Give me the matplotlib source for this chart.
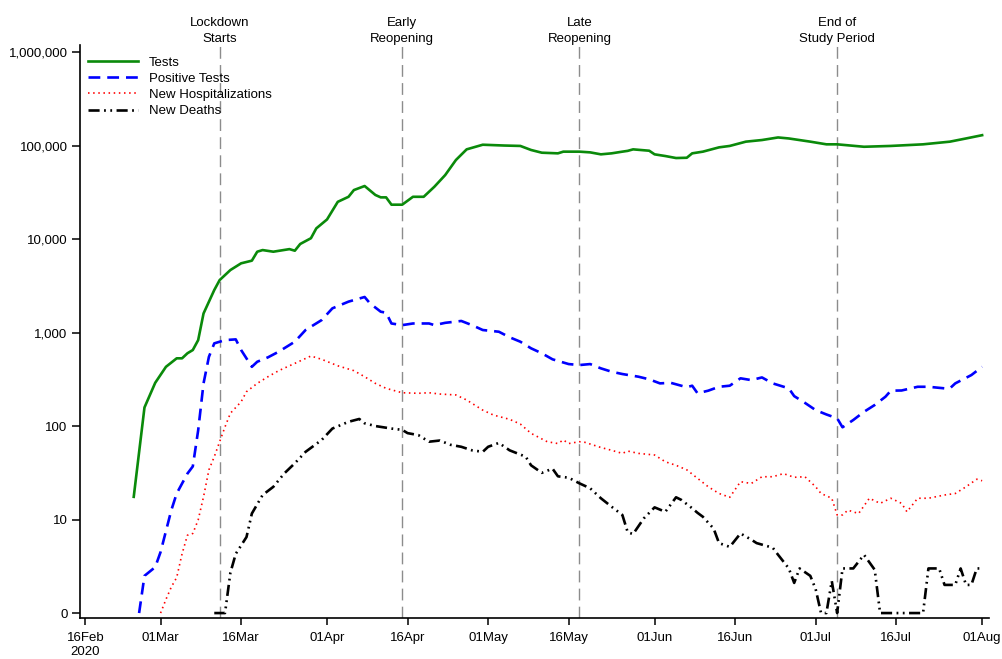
import numpy as np
import pandas as pd
import matplotlib
matplotlib.use("Agg")
import matplotlib.pyplot as plt
import matplotlib.dates as mdates
from matplotlib.ticker import FixedLocator, FixedFormatter, NullLocator

plt.rcParams['font.family'] = ['Liberation Sans', 'DejaVu Sans']
plt.rcParams['lines.scale_dashes'] = False

# ---- data ----
tests_dates = ["02-25", "02-27", "02-29", "03-02", "03-04", "03-05", "03-06", "03-07",
               "03-08", "03-09", "03-11", "03-12", "03-14", "03-16", "03-18", "03-19",
               "03-20", "03-22", "03-25", "03-26", "03-27", "03-29", "03-30", "04-01",
               "04-03", "04-05", "04-06", "04-08", "04-10", "04-11", "04-12", "04-13",
               "04-15", "04-17", "04-19", "04-21", "04-23", "04-25", "04-27", "04-30",
               "05-04", "05-07", "05-09", "05-11", "05-14", "05-15", "05-18", "05-20",
               "05-22", "05-24", "05-26", "05-27", "05-28", "05-31", "06-01", "06-03",
               "06-05", "06-07", "06-08", "06-10", "06-13", "06-15", "06-18", "06-21",
               "06-24", "06-26", "06-30", "07-03", "07-05", "07-10", "07-15", "07-21",
               "07-26", "07-29", "08-01"]
tests = [17.5, 158, 290, 430, 530, 530, 600, 650,
         830, 1600, 2850, 3640, 4660, 5500, 5870, 7320,
         7620, 7320, 7800, 7500, 8850, 10200, 13000, 16200,
         25000, 28300, 33400, 36900, 29600, 27900, 27900, 23300,
         23300, 28300, 28300, 36300, 48300, 70000, 91000, 102000,
         100000, 99000, 89600, 83800, 82500, 86000, 86000, 84500,
         80500, 82500, 86000, 87700, 91000, 88000, 80500, 77200,
         73500, 74000, 82500, 86000, 95600, 99000, 110000, 114500,
         122000, 119000, 110000, 103000, 103000, 97000, 99000, 103000,
         110000, 119000, 129000]

pos_dates = ["02-26", "02-27", "02-29", "03-01", "03-03", "03-04", "03-06", "03-07",
             "03-08", "03-09", "03-10", "03-11", "03-13", "03-15", "03-16", "03-18",
             "03-19", "03-21", "03-23", "03-26", "03-28", "03-31", "04-02", "04-05",
             "04-08", "04-09", "04-11", "04-12", "04-13", "04-15", "04-17", "04-20",
             "04-21", "04-23", "04-26", "04-28", "04-30", "05-03", "05-05", "05-07",
             "05-09", "05-11", "05-13", "05-16", "05-18", "05-20", "05-22", "05-24",
             "05-26", "05-29", "05-31", "06-02", "06-04", "06-07", "06-08", "06-09",
             "06-11", "06-13", "06-15", "06-17", "06-19", "06-21", "06-23", "06-26",
             "06-27", "06-29", "07-01", "07-03", "07-05", "07-06", "07-08", "07-10",
             "07-12", "07-14", "07-15", "07-17", "07-20", "07-22", "07-25", "07-26",
             "07-27", "07-30", "08-01"]
positive = [0, 2.5, 3.1, 4.5, 12.6, 19, 31, 37,
            90, 286, 550, 766, 830, 845, 650, 430,
            487, 543, 624, 798, 1064, 1360, 1815, 2140,
            2400, 2050, 1670, 1630, 1250, 1200, 1250, 1250,
            1200, 1270, 1330, 1200, 1064, 1020, 890, 798,
            678, 600, 517, 460, 449, 460, 414, 381,
            360, 337, 316, 286, 290, 260, 270, 224,
            239, 263, 270, 324, 310, 331, 286, 253,
            209, 177, 148, 133, 121, 97, 116, 142,
            168, 206, 239, 240, 263, 263, 253, 253,
            286, 351, 430]

hosp_dates = ["03-01", "03-02", "03-03", "03-04", "03-05", "03-06", "03-07", "03-08",
              "03-09", "03-10", "03-11", "03-12", "03-13", "03-14", "03-16", "03-17",
              "03-19", "03-21", "03-23", "03-26", "03-29", "03-31", "04-03", "04-06",
              "04-08", "04-10", "04-12", "04-15", "04-18", "04-20", "04-22", "04-25",
              "04-27", "04-30", "05-02", "05-05", "05-07", "05-09", "05-12", "05-14",
              "05-15", "05-16", "05-18", "05-19", "05-22", "05-24", "05-26", "05-27",
              "05-29", "06-01", "06-03", "06-05", "06-07", "06-09", "06-11", "06-13",
              "06-15", "06-17", "06-19", "06-21", "06-23", "06-25", "06-27", "06-29",
              "07-01", "07-02", "07-04", "07-05", "07-06", "07-07", "07-09", "07-11",
              "07-13", "07-15", "07-17", "07-18", "07-20", "07-22", "07-25", "07-27",
              "07-29", "07-31", "08-01"]
hospitalizations = [0, 1.4, 1.9, 2.4, 4.3, 6.8, 7.1, 9.9,
                    17.5, 34, 47, 68, 98, 137, 182, 233,
                    286, 337, 391, 468, 561, 517, 441, 391,
                    337, 286, 253, 227, 224, 227, 220, 215,
                    190, 148, 131, 118, 105, 83.5, 68, 65,
                    71, 65, 68, 67, 59, 55, 51, 54,
                    51, 49, 41.5, 38, 34, 27.6, 22.4, 19,
                    17.3, 25.4, 24.3, 28.7, 28.7, 31, 28.3, 28.7,
                    22.4, 19, 16.9, 11.2, 11.2, 12.6, 11.6, 16.9,
                    14.9, 16.9, 14.9, 12.1, 16.9, 16.9, 18.3, 19,
                    22.4, 27, 26]

death_dates = ["03-11", "03-13", "03-14", "03-15", "03-17", "03-18", "03-20", "03-22",
               "03-24", "03-26", "03-28", "03-31", "04-02", "04-05", "04-07", "04-08",
               "04-10", "04-13", "04-15", "04-16", "04-18", "04-20", "04-22", "04-24",
               "04-26", "04-28", "04-30", "05-01", "05-03", "05-05", "05-08", "05-09",
               "05-11", "05-13", "05-14", "05-16", "05-18", "05-20", "05-22", "05-24",
               "05-26", "05-27", "05-28", "05-30", "06-01", "06-03", "06-05", "06-06",
               "06-08", "06-09", "06-10", "06-12", "06-13", "06-15", "06-17", "06-19",
               "06-20", "06-23", "06-24", "06-26", "06-27", "06-28", "06-30", "07-01",
               "07-02", "07-03", "07-04", "07-05", "07-06", "07-08", "07-10", "07-12",
               "07-13", "07-16", "07-20", "07-21", "07-22", "07-24", "07-25", "07-27",
               "07-28", "07-29", "07-30", "07-31", "08-01"]
deaths = [0, 0, 2.7, 4.3, 6.5, 11.6, 18.3, 22.4,
          31, 40, 53, 71, 94, 111, 119, 107,
          100, 94, 91, 84, 80, 68, 70, 63,
          60, 55, 53, 60, 66, 55, 47, 38,
          31.6, 35, 29, 28, 24.4, 21.6, 16.9, 13.7,
          11.2, 7.3, 7.0, 10.3, 13.5, 12.1, 17.3, 16.2,
          13.2, 11.8, 10.7, 8.0, 5.6, 5.1, 7.1, 6.1,
          5.6, 5.0, 4.2, 3.0, 2.1, 3.0, 2.5, 1.8,
          0, 0, 2.2, 0, 3, 3, 4.2, 2.9,
          0, 0, 0, 0, 3, 3, 2, 2,
          3, 2, 2, 3, 3]

event_dates = ["03-12", "04-15", "05-18", "07-05"]
event_labels = ["Lockdown\nStarts", "Early\nReopening", "Late\nReopening", "End of\nStudy Period"]

tick_dates = ["02-16", "03-01", "03-16", "04-01", "04-16", "05-01", "05-16",
              "06-01", "06-16", "07-01", "07-16", "08-01"]
tick_labels = ["16Feb\n2020", "01Mar", "16Mar", "01Apr", "16Apr", "01May", "16May",
               "01Jun", "16Jun", "01Jul", "16Jul", "01Aug"]

ytick_values = [1, 10, 100, 1000, 10000, 100000, 1000000]
ytick_labels = ["0", "10", "100", "1,000", "10,000", "100,000", "1,000,000"]


def to_dates(md):
    return pd.to_datetime(["2020-" + d for d in md])


def floor1(v):
    # zero is drawn on the bottom ("0") line of the log axis
    return np.maximum(np.asarray(v, dtype=float), 1.0)


fig = plt.figure(figsize=(10.03, 6.59), dpi=100)
ax = fig.add_axes([0.0798, 0.0622, 0.9063, 0.8695])

ax.set_yscale('log')
ax.set_ylim(10 ** -0.053, 10 ** 6.075)
ax.set_xlim(pd.Timestamp("2020-02-15"), pd.Timestamp("2020-08-02 07:00"))

for d in to_dates(event_dates):
    ax.axvline(d, color='#8c8c8c', lw=1.0, dashes=(8.5, 4.5), zorder=1)

ax.plot(to_dates(tests_dates), floor1(tests), color='#0a8a0a', lw=1.9,
        solid_joinstyle='round', label='Tests', zorder=3)
ax.plot(to_dates(pos_dates), floor1(positive), color='#0000ff', lw=1.9,
        dashes=(8.5, 5.0), label='Positive Tests', zorder=3)
ax.plot(to_dates(hosp_dates), floor1(hospitalizations), color='#ff0000', lw=1.2,
        dashes=(1.1, 2.6), label='New Hospitalizations', zorder=3)
ax.plot(to_dates(death_dates), floor1(deaths), color='black', lw=1.9,
        dashes=(8.0, 3.2, 1.3, 3.2, 1.3, 3.2), label='New Deaths', zorder=3)

trans = ax.get_xaxis_transform()
for d, lab in zip(to_dates(event_dates), event_labels):
    ax.text(d, 1.0, lab, transform=trans, ha='center', va='bottom',
            fontsize=9.5, linespacing=1.5)

ax.yaxis.set_major_locator(FixedLocator(ytick_values))
ax.yaxis.set_major_formatter(FixedFormatter(ytick_labels))
ax.yaxis.set_minor_locator(NullLocator())
ax.xaxis.set_major_locator(FixedLocator(mdates.date2num(to_dates(tick_dates))))
ax.xaxis.set_major_formatter(FixedFormatter(tick_labels))

ax.tick_params(axis='y', length=6, width=1.1, pad=3, labelsize=9.5)
ax.tick_params(axis='x', length=5, width=1.1, pad=5, labelsize=9.5)

for s in ['top', 'right']:
    ax.spines[s].set_visible(False)
for s in ['left', 'bottom']:
    ax.spines[s].set_linewidth(1.2)

leg = ax.legend(loc='upper left', bbox_to_anchor=(0.009, 0.98), frameon=False,
                fontsize=9.5, handlelength=3.8, handletextpad=0.8,
                labelspacing=0.3, borderaxespad=0, borderpad=0)

fig.savefig('out.png', dpi=100)
